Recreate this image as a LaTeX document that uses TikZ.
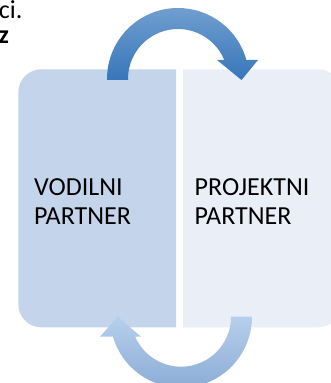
\documentclass[tikz,border=0pt]{standalone}
\usepackage{fontspec}
\setmainfont{Carlito}
\begin{document}
\begin{tikzpicture}[x=1pt,y=1pt,
  lbl/.style={anchor=base west,inner sep=0pt,font=\fontsize{26}{29}\selectfont},
  leadbox/.style={fill={rgb,255:red,196;green,213;blue,235}},
  projbox/.style={fill={rgb,255:red,233;green,238;blue,247}},
  toparrow/.style={top color={rgb,255:red,112;green,158;blue,207},bottom color={rgb,255:red,56;green,118;blue,186}},
  botarrow/.style={top color={rgb,255:red,182;green,207;blue,236},bottom color={rgb,255:red,140;green,173;blue,214}}]
\useasboundingbox (0,0) rectangle (331,383);
\clip (0,0) rectangle (331,383);

% leftover lines of surrounding text
\node[lbl] (tail) at (-1.3,364.7) {ci.};
\node[lbl,font=\fontsize{26}{29}\selectfont\bfseries] (bold) at (-1.5,339.7) {z};

% two halves, outer corners rounded
\fill[leadbox] (176,55.7) -- (41.3,55.7) arc[start angle=270,end angle=180,radius=23]
  -- (18.3,290.7) arc[start angle=180,end angle=90,radius=23] -- (176,313.7) -- cycle;
\fill[projbox] (183,55.7) -- (318,55.7) arc[start angle=-90,end angle=0,radius=23]
  -- (341,290.7) arc[start angle=0,end angle=90,radius=23] -- (183,313.7) -- cycle;

% circular arrow over the top, left to right
\shade[toparrow] (107,303) -- (107,304) arc[start angle=180,end angle=15.52,radius=71]
  -- (258,323) -- (241.5,303) -- (217,323) -- (224.25,323)
  arc[start angle=22.33,end angle=180,radius=50] -- (128,303) -- cycle;

% circular arrow underneath, right to left
\shade[botarrow] (252,66.3) arc[start angle=0,end angle=-163.64,radius=71]
  -- (100,46.3) -- (117.7,66.3) -- (141,46.3) -- (135.2,46.3)
  arc[start angle=-156.42,end angle=0,radius=50] -- cycle;

% labels
\node[lbl] (lead1) at (34,187.5) {VODILNI};
\node[lbl] (lead2) at (34,158.5) {PARTNER};
\node[lbl] (proj1) at (194.5,187.5) {PROJEKTNI};
\node[lbl] (proj2) at (194.5,158.5) {PARTNER};
\end{tikzpicture}
\end{document}
